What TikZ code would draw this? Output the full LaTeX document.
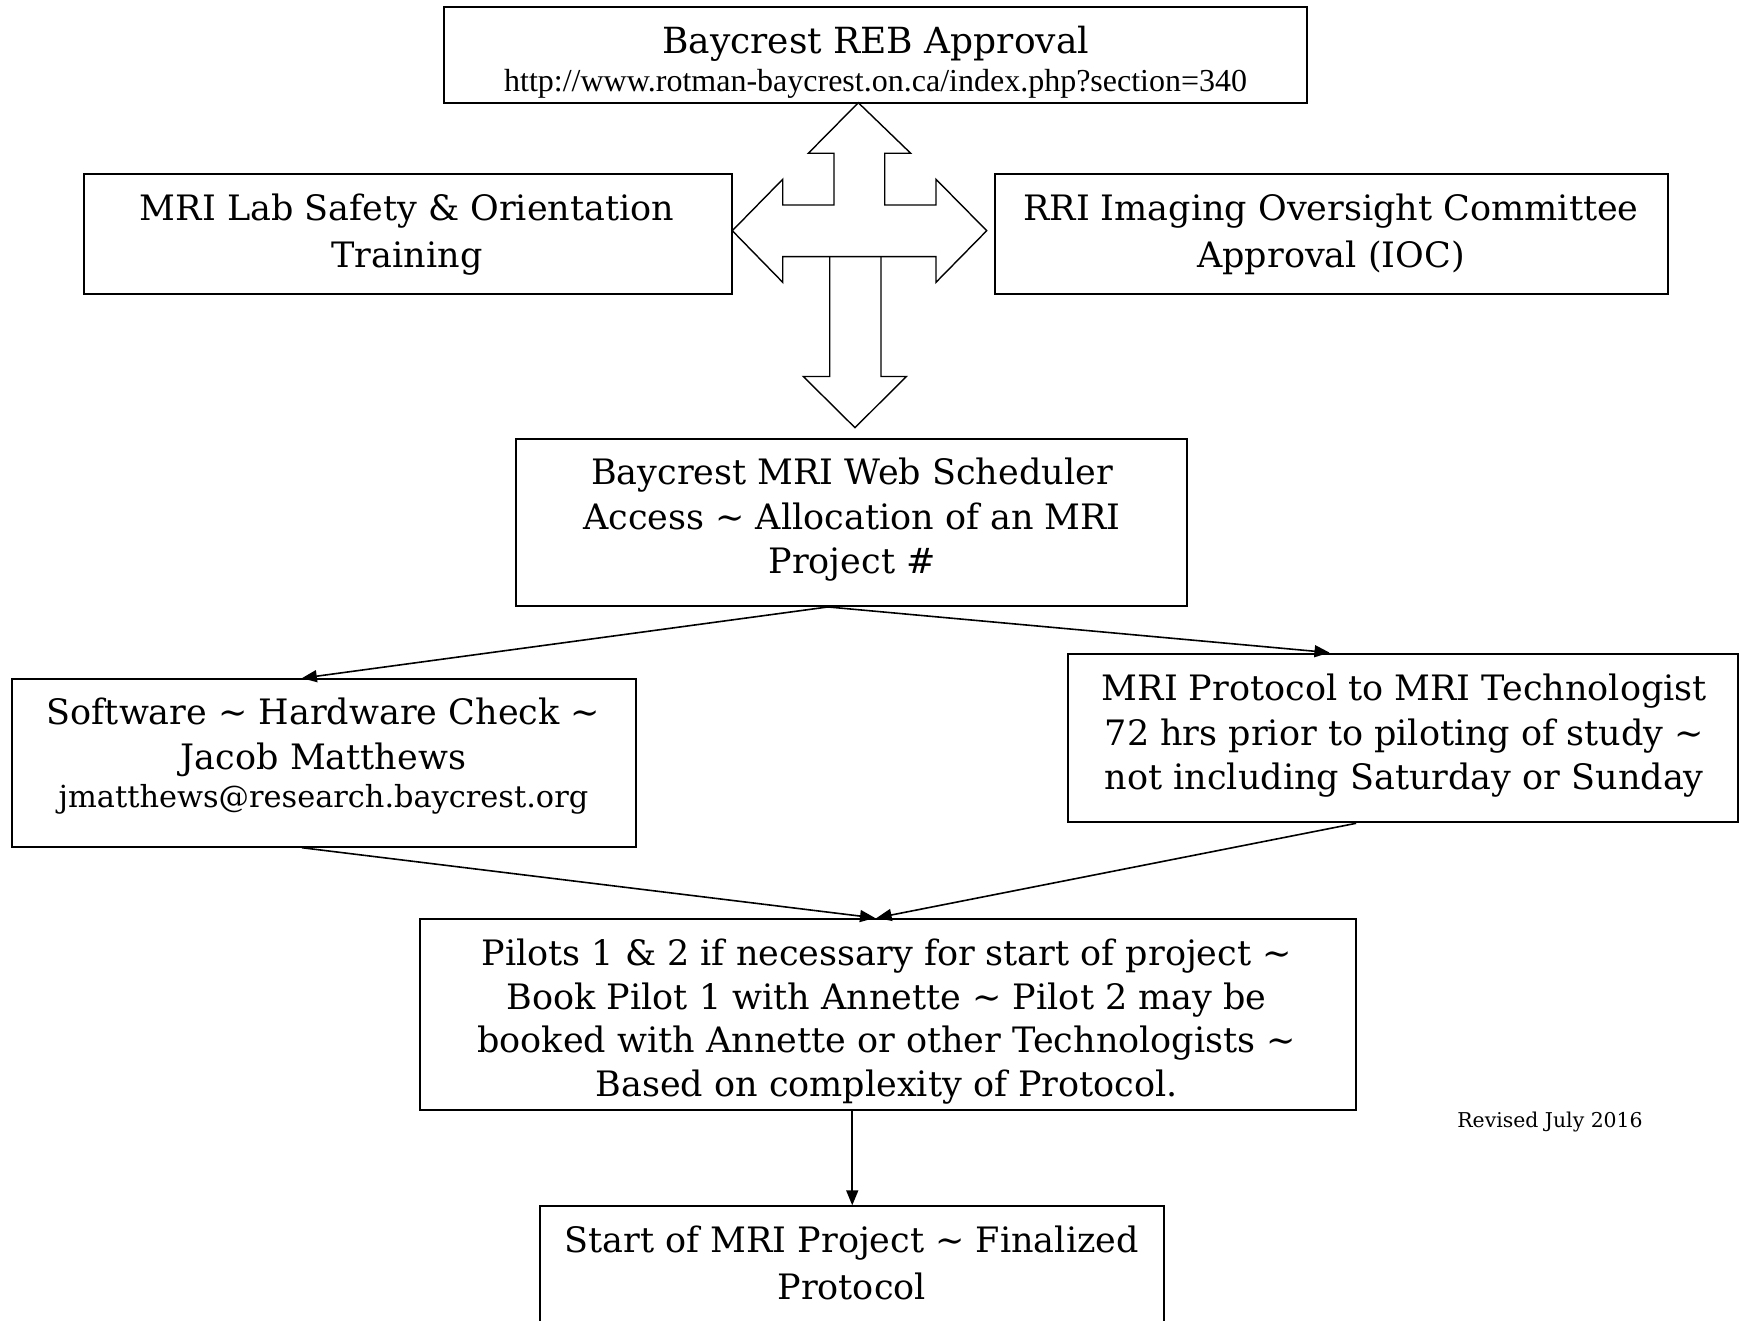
\documentclass[tikz,border=0pt]{standalone}
\usepackage{fontspec}
\setmainfont{DejaVu Serif}
\newfontfamily\timesf{Liberation Serif}
\usetikzlibrary{arrows.meta}
\begin{document}
\begin{tikzpicture}[x=0.5pt,y=-0.5pt,
  box/.style={draw, line width=1pt, inner sep=0pt},
  txt/.style={align=center, inner sep=0pt, font=\fontsize{17.5}{22.3}\selectfont},
  smalltxt/.style={align=center, inner sep=0pt, font=\fontsize{15.2}{18}\selectfont},
  urltxt/.style={inner sep=0pt, font=\timesf\fontsize{16}{18}\selectfont},
  conn/.style={line width=0.8pt, -{Triangle[length=7.5pt,width=6pt]}},
  bigarrow/.style={draw, line width=0.7pt, line join=miter}]
\useasboundingbox (0,0) rectangle (1740,1321);
\fill[white] (0,0) rectangle (1740,1321);
\clip (0,0) rectangle (1740,1321);

% boxes
\node[box, minimum width=431.7pt, minimum height=48.25pt] (reb) at (875.6,55) {};
\node[box, minimum width=324.05pt, minimum height=59.95pt] (lab) at (408.35,234.15) {};
\node[box, minimum width=336.25pt, minimum height=59.95pt] (rri) at (1331.65,234.15) {};
\node[box, minimum width=335.7pt, minimum height=83.65pt] (sched) at (851.7,522.3) {};
\node[box, minimum width=311.85pt, minimum height=83.75pt] (soft) at (324.05,762.95) {};
\node[box, minimum width=335.2pt, minimum height=84.35pt] (prot) at (1403.1,737.95) {};
\node[box, minimum width=468.3pt, minimum height=95.45pt] (pilots) at (887.8,1014.35) {};
\node[box, minimum width=311.85pt, minimum height=66.85pt] (start) at (852.25,1273.15) {};

% texts
\node[txt, font=\fontsize{18}{22.3}\selectfont] (rebT) at (875.6,43.5) {Baycrest REB Approval};
\node[urltxt] (rebU) at (875.6,83.5) {http://www.rotman-baycrest.on.ca/index.php?section=340};
\node[txt, font=\fontsize{17.5}{23.3}\selectfont] (labT) at (407,234.3) {MRI Lab Safety \& Orientation\\Training};
\node[txt, font=\fontsize{17.5}{23.3}\selectfont] (rriT) at (1331,234.3) {RRI Imaging Oversight Committee\\Approval (IOC)};
\node[txt] (schedT) at (852,519.8) {Baycrest MRI Web Scheduler\\Access \textasciitilde{} Allocation of an MRI\\Project \#};
\node[txt] (softT) at (323.5,737.3) {Software \textasciitilde{} Hardware Check \textasciitilde\\Jacob Matthews};
\node[smalltxt] (softE) at (323.5,799.2) {jmatthews@research.baycrest.org};
\node[txt] (protT) at (1404.3,735.9) {MRI Protocol to MRI Technologist\\72 hrs prior to piloting of study \textasciitilde\\not including Saturday or Sunday};
\node[txt, font=\fontsize{17.5}{21.8}\selectfont] (pilotsT) at (886.7,1021.4) {Pilots 1 \& 2 if necessary for start of project \textasciitilde\\Book Pilot 1 with Annette \textasciitilde{} Pilot 2 may be\\booked with Annette or other Technologists \textasciitilde\\Based on complexity of Protocol.};
\node[txt, font=\fontsize{17.5}{23.3}\selectfont] (startT) at (851.7,1262.8) {Start of MRI Project \textasciitilde{} Finalized\\Protocol};
\node[inner sep=0pt, font=\fontsize{10.2}{12}\selectfont] (rev) at (1550,1122) {Revised July 2016};

% three-way arrow (up, left, right)
\draw[bigarrow] (858.3,102.7) -- (910.7,153.3) -- (884.7,153.3) -- (884.7,205) -- (936,205) -- (936,179.3)
  -- (986.7,230.7) -- (936,282.3) -- (936,256.7) -- (782.7,256.7) -- (782.7,282.3) -- (732.3,230.7)
  -- (782.7,179.3) -- (782.7,205) -- (834,205) -- (834,153.3) -- (808.3,153.3) -- cycle;
% down arrow
\draw[bigarrow] (829.7,256.7) -- (829.7,376.5) -- (803.3,376.5) -- (855,427.7) -- (906.3,376.5) -- (881,376.5) -- (881,256.7);

% connectors
\draw[conn] ([xshift=-11.9pt]sched.south) -- ([xshift=-11.1pt]soft.north);
\draw[conn] ([xshift=-11.9pt]sched.south) -- ([xshift=-36.8pt]prot.north);
\draw[conn] ([xshift=-11.1pt]soft.south) -- ([xshift=-6.4pt]pilots.north);
\draw[conn] ([xshift=-23.5pt]prot.south) -- ([xshift=-5.6pt]pilots.north);
\draw[conn] (start.north |- pilots.south) -- (start.north);
\end{tikzpicture}
\end{document}
